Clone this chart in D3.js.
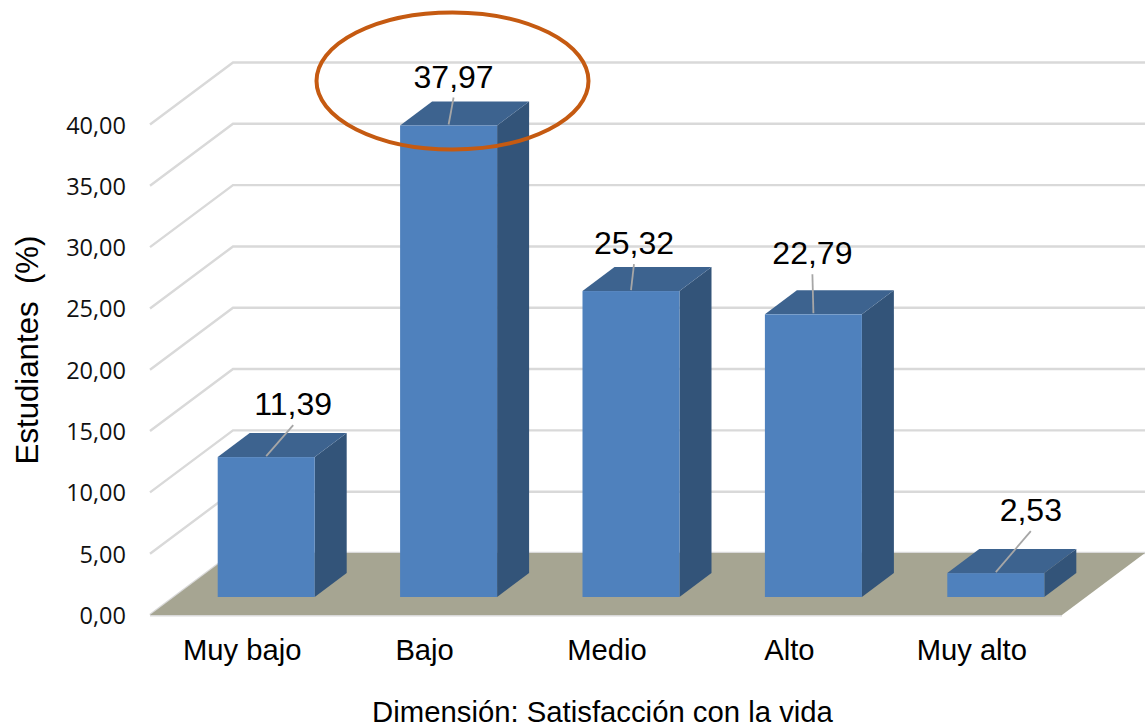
<!DOCTYPE html>
<html>
<head>
<meta charset="utf-8">
<script src="https://cdn.jsdelivr.net/npm/d3@7"></script>
<style>
  html, body { margin: 0; padding: 0; background: #fff; }
  svg { display: block; }
  text { font-family: "Liberation Sans", Arial, sans-serif; fill: #000; }
  .tick-label { font-family: "Open Sans", sans-serif; font-size: 23.5px; fill: #111; }
</style>
</head>
<body>
<div id="chart"></div>
<script>
var categories = ["Muy bajo", "Bajo", "Medio", "Alto", "Muy alto"]
// values printed over the bars
var valueLabels = ["11,39", "37,97", "25,32", "22,79", "2,53"]
// height of each bar (the drawn bars differ a bit from their printed values)
var barLevels = [11.41, 38.45, 24.95, 23.05, 1.95]
var yTicks = [0, 5, 10, 15, 20, 25, 30, 35, 40]

// label shift from the top of the bar, hand placed in the original
var labelShiftX = [27, 5, 3, -1, 35]
var labelShiftY = [-42, -38, -37, -50, -52]

var width = 1148, height = 728

// oblique depth of the chart box and of the bars inside it
var depthX = 83, depthY = -62
var barOffsetX = 25, barOffsetY = -18
var barDepthX = 32, barDepthY = -24
var barWidth = 97

var x = d3.scaleBand()
  .domain(categories)
  .range([150, 1062])

var y = d3.scaleLinear()
  .domain([0, 40])
  .range([615, 124.5])

var svg = d3.select("#chart").append("svg")
  .attr("width", width)
  .attr("height", height)

function poly(points) {
  return points.map(function(p) { return p.join(","); }).join(" ")
}

// gridlines: along the side wall and then along the back wall
svg.append("g").selectAll("polyline")
  .data(yTicks)
  .enter()
  .append("polyline")
  .attr("fill", "none")
  .attr("stroke", "#d9d9d9")
  .attr("stroke-width", 2.4)
  .attr("points", function(d) {
    return poly([[x.range()[0], y(d)], [x.range()[0] + depthX, y(d) + depthY], [x.range()[1] + depthX, y(d) + depthY]])
  })

// floor
svg.append("line")
  .attr("x1", x.range()[0])
  .attr("x2", x.range()[1])
  .attr("y1", y(0) + 0.5)
  .attr("y2", y(0) + 0.5)
  .attr("stroke", "#d9d9d9")
  .attr("stroke-width", 2)

svg.append("polygon")
  .attr("fill", "#a6a592")
  .attr("points", poly([
    [x.range()[0], y(0)],
    [x.range()[1], y(0)],
    [x.range()[1] + depthX, y(0) + depthY],
    [x.range()[0] + depthX, y(0) + depthY]
  ]))

// bars
var base = y(0) + barOffsetY

function barLeft(i) {
  return x(categories[i]) + x.bandwidth() / 2 - barWidth / 2 + barOffsetX
}
function barTop(d) {
  return base - (y(0) - y(d))
}

var bars = svg.append("g").selectAll("g")
  .data(barLevels)
  .enter()
  .append("g")

bars.append("polygon")
  .attr("fill", "#335479")
  .attr("points", function(d, i) {
    var r = barLeft(i) + barWidth
    return poly([[r, barTop(d)], [r + barDepthX, barTop(d) + barDepthY], [r + barDepthX, base + barDepthY], [r, base]])
  })

bars.append("polygon")
  .attr("fill", "#3d638f")
  .attr("points", function(d, i) {
    var l = barLeft(i), r = l + barWidth, t = barTop(d)
    return poly([[l, t], [r, t], [r + barDepthX, t + barDepthY], [l + barDepthX, t + barDepthY]])
  })

bars.append("rect")
  .attr("fill", "#4f81bd")
  .attr("x", function(d, i) { return barLeft(i); })
  .attr("y", function(d) { return barTop(d); })
  .attr("width", barWidth)
  .attr("height", function(d) { return base - barTop(d); })

// leader lines and value labels
bars.append("line")
  .attr("stroke", "#a6a6a6")
  .attr("stroke-width", 1.8)
  .attr("x1", function(d, i) { return barLeft(i) + barWidth / 2; })
  .attr("y1", function(d) { return barTop(d) - 1; })
  .attr("x2", function(d, i) { return barLeft(i) + barWidth / 2 + labelShiftX[i]; })
  .attr("y2", function(d, i) { return barTop(d) + labelShiftY[i] + 10; })

bars.append("text")
  .attr("text-anchor", "middle")
  .style("font-size", "32px")
  .attr("x", function(d, i) { return barLeft(i) + barWidth / 2 + labelShiftX[i]; })
  .attr("y", function(d, i) { return barTop(d) + labelShiftY[i]; })
  .text(function(d, i) { return valueLabels[i]; })

// y tick labels
svg.append("g").selectAll("text")
  .data(yTicks)
  .enter()
  .append("text")
  .attr("class", "tick-label")
  .attr("text-anchor", "end")
  .attr("x", 126)
  .attr("y", function(d) { return y(d) + 9; })
  .text(function(d) { return d3.format(".2f")(d).replace(".", ","); })

// category labels
svg.append("g").selectAll("text")
  .data(categories)
  .enter()
  .append("text")
  .attr("text-anchor", "middle")
  .style("font-size", "29.2px")
  .attr("x", function(d) { return x(d) + x.bandwidth() / 2 + 1; })
  .attr("y", 660)
  .text(function(d) { return d; })

// axis titles
svg.append("text")
  .attr("text-anchor", "middle")
  .style("font-size", "29.3px")
  .attr("x", 602.5)
  .attr("y", 722)
  .text("Dimensión: Satisfacción con la vida")

svg.append("text")
  .attr("text-anchor", "middle")
  .attr("transform", "translate(38,350) rotate(-90)")
  .style("font-size", "31.2px")
  .style("white-space", "pre")
  .text("Estudiantes  (%)")

// highlight round the tallest bar's value
svg.append("ellipse")
  .attr("cx", 452.5)
  .attr("cy", 81)
  .attr("rx", 136)
  .attr("ry", 68.5)
  .attr("fill", "none")
  .attr("stroke", "#c55a11")
  .attr("stroke-width", 4)
</script>
</body>
</html>
